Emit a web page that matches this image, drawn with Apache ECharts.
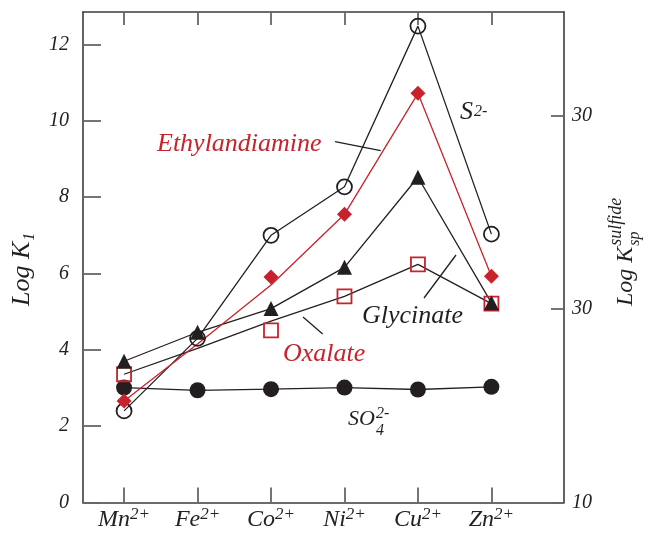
<!DOCTYPE html>
<html><head><meta charset="utf-8">
<script src="https://cdn.jsdelivr.net/npm/echarts@6/dist/echarts.min.js"></script>
<style>html,body{margin:0;padding:0;background:#fff}#c{width:648px;height:533px}</style>
</head><body><div id="c"></div>
<script>
// ---- data ----
const categories = ['Mn', 'Fe', 'Co', 'Ni', 'Cu', 'Zn'];
const charge = '2+';
const sulfide = [2.40, 4.30, 7.00, 8.27, 12.48, 7.03];          // S2- (open circles)
const ethylenediamine = [2.66, null, 5.91, 7.55, 10.72, 5.93];   // red diamonds
const ethylenediamineCurve = [2.66, 4.15, 5.70, 7.55, 10.72, 5.93];
const glycinate = [3.70, 4.46, 5.08, 6.16, 8.52, 5.23];          // filled triangles
const oxalate = [3.36, null, 4.51, 5.40, 6.24, 5.21];            // open red squares
const oxalateCurve = [3.36, 4.04, 4.75, 5.40, 6.24, 5.21];
const sulfate = [3.01, 2.94, 2.97, 3.01, 2.96, 3.03];            // filled circles
const leftTicks = [0, 2, 4, 6, 8, 10, 12];
const rightTickValues = [10, 30, 50];
const rightTickLabels = ['10', '30', '30'];
const catTicks = [0, 1, 2, 3, 4, 5];

// ---- styling ----
const BLACK = '#231f20', RED = '#c8222c', AXIS = '#3c3c3c', TICK = '#666';
const FF = 'Liberation Serif';
const pairs = a => a.map((v, i) => [i, v]);
const marks = a => a.map((v, i) => [i, v]).filter(p => p[1] != null);

const chart = echarts.init(document.getElementById('c'), null, {renderer: 'canvas'});

function lineSeries(data, color) {
  return {type: 'line', data: pairs(data), showSymbol: false, symbol: 'none', silent: true,
    lineStyle: {color: color, width: 1.3}, z: 2, animation: false};
}
function markSeries(data, symbol, size, fill, stroke, bw) {
  return {type: 'scatter', data: marks(data), symbol: symbol, symbolSize: size, silent: true,
    itemStyle: {color: fill, borderColor: stroke, borderWidth: bw, opacity: 1}, z: 3, animation: false};
}

const ctx = document.createElement('canvas').getContext('2d');
function tw(text, size) { ctx.font = 'italic ' + size + 'px "' + FF + '"'; return ctx.measureText(text).width; }
function T(x, y, text, size, color, extra) {
  return Object.assign({type: 'text', x: x, y: y, silent: true, style: {text: text, fill: color || BLACK,
    font: 'italic ' + size + 'px "' + FF + '"', fontStyle: 'italic', fontSize: size, fontFamily: FF,
    textAlign: 'left', align: 'left', textVerticalAlign: 'middle', verticalAlign: 'middle'}}, extra || {});
}
function L(x1, y1, x2, y2) {
  return {type: 'line', silent: true, shape: {x1: x1, y1: y1, x2: x2, y2: y2}, style: {stroke: BLACK, lineWidth: 1.3}};
}

const axisFont = {fontFamily: FF, fontStyle: 'italic', color: '#222'};

const option = {
  animation: false,
  backgroundColor: '#fff',
  grid: {left: 83, top: 12, width: 481, height: 490.5, outerBoundsMode: 'none', containLabel: false},
  xAxis: [
    {type: 'value', position: 'bottom', min: -0.559, max: 5.988,
      axisLine: {show: true, onZero: false, lineStyle: {color: AXIS, width: 1.6}},
      axisTick: {show: true, inside: true, length: 15, customValues: catTicks, lineStyle: {color: TICK, width: 1.8}},
      splitLine: {show: false},
      axisLabel: {show: true, customValues: catTicks, margin: 4,
        formatter: v => '{a|' + categories[v] + '}{b|' + charge + '}',
        rich: {a: Object.assign({fontSize: 24, lineHeight: 26}, axisFont),
               b: Object.assign({fontSize: 17, lineHeight: 17, verticalAlign: 'top'}, axisFont)}}},
    {type: 'value', position: 'top', min: -0.559, max: 5.988,
      axisLine: {show: true, onZero: false, lineStyle: {color: AXIS, width: 1.6}},
      axisTick: {show: true, inside: true, length: 13, customValues: catTicks, lineStyle: {color: TICK, width: 1.8}},
      splitLine: {show: false}, axisLabel: {show: false}}
  ],
  yAxis: [
    {type: 'value', position: 'left', min: 0, max: 12.85,
      axisLine: {show: true, onZero: false, lineStyle: {color: AXIS, width: 1.6}},
      axisTick: {show: true, inside: true, length: 18, customValues: leftTicks, lineStyle: {color: TICK, width: 1.8}},
      splitLine: {show: false},
      axisLabel: Object.assign({customValues: leftTicks, fontSize: 20, margin: 14}, axisFont)},
    {type: 'value', position: 'right', min: 10, max: 60.68,
      axisLine: {show: true, onZero: false, lineStyle: {color: AXIS, width: 1.6}},
      axisTick: {show: true, inside: true, length: 13, customValues: rightTickValues, lineStyle: {color: TICK, width: 1.8}},
      splitLine: {show: false},
      axisLabel: Object.assign({customValues: rightTickValues, fontSize: 20, margin: 8,
        formatter: v => rightTickLabels[rightTickValues.indexOf(v)]}, axisFont)}
  ],
  series: [
    lineSeries(sulfate, BLACK),
    lineSeries(oxalateCurve, BLACK),
    lineSeries(glycinate, BLACK),
    lineSeries(sulfide, BLACK),
    lineSeries(ethylenediamineCurve, RED),
    markSeries(sulfate, 'circle', 16, BLACK, BLACK, 0),
    markSeries(sulfide, 'circle', 15, 'rgba(255,255,255,0)', BLACK, 1.8),
    markSeries(oxalate, 'rect', 14, 'rgba(255,255,255,0)', RED, 1.8),
    markSeries(ethylenediamine, 'diamond', 15, RED, RED, 0),
    markSeries(glycinate, 'triangle', 15, BLACK, BLACK, 0)
  ],
  graphic: []
};

// annotations
const g = [];
g.push(T(157, 144, 'Ethylandiamine', 26, RED));
g.push(L(335, 141.7, 380.7, 150.7));
g.push(T(460, 112, 'S', 26, BLACK));
g.push(T(460 + tw('S', 26) + 1, 112, '2-', 16, BLACK));
g.push(T(362, 316, 'Glycinate', 26, BLACK));
g.push(L(424, 298, 456, 255));
g.push(T(283, 354, 'Oxalate', 26, RED));
g.push(L(303, 317, 322.7, 334));
g.push(T(348, 419, 'SO', 22, BLACK));
g.push(T(348 + tw('SO', 22) + 1, 431, '4', 16, BLACK));
g.push(T(348 + tw('SO', 22) + 1, 414, '2-', 16, BLACK));
// left axis title (rotated)
const lw = tw('Log K', 26);
g.push({type: 'group', x: 22, y: 306, rotation: Math.PI / 2, children: [
  T(0, 0, 'Log K', 26, BLACK),
  T(lw + 1, 8, '1', 16, BLACK)
]});
// right axis title (rotated)
const rw = tw('Log K', 24);
g.push({type: 'group', x: 626, y: 306, rotation: Math.PI / 2, children: [
  T(0, 0, 'Log K', 24, BLACK),
  T(rw + 1, -10, 'sulfide', 18, BLACK),
  T(rw + 1, 9, 'sp', 16, BLACK)
]});
option.graphic = g;

chart.setOption(option);
</script></body></html>
